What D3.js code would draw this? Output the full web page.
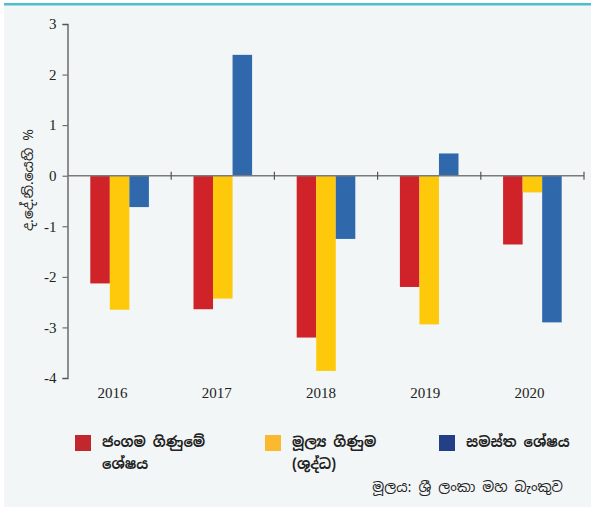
<!DOCTYPE html>
<html>
<head>
<meta charset="utf-8">
<script src="https://cdn.jsdelivr.net/npm/d3@7"></script>
<style>
  body { margin: 0; background: #fff; }
  svg { display: block; }
  .tick text { font-family: "Liberation Serif", "DejaVu Serif", serif; }
</style>
</head>
<body>
<svg id="chart" width="591" height="507"></svg>
<script>
// data
var years = ['2016', '2017', '2018', '2019', '2020'];
var seriesKeys = ['current', 'financial', 'overall'];
var seriesNames = [['ජංගම ගිණුමේ', 'ශේෂය'], ['මූල්‍ය ගිණුම', '(ශුද්ධ)'], ['සමස්ත ශේෂය']];
var currentAccount = [-2.13, -2.64, -3.2, -2.2, -1.36];
var financialAccount = [-2.65, -2.43, -3.86, -2.94, -0.33];
var overallBalance = [-0.62, 2.39, -1.25, 0.44, -2.9];
var yTicks = [3, 2, 1, 0, -1, -2, -3, -4];

var barColors = ['#cf2229', '#fdc90a', '#2f69ab'];
var legendColors = ['#c1272d', '#fbb92f', '#233f86'];

var values = [currentAccount, financialAccount, overallBalance];
var rows = years.map(function(y, i) {
    return {year: y, vals: seriesKeys.map(function(k, j) { return {key: k, value: values[j][i]}; })};
});

var svg = d3.select('svg#chart');

// panel
svg.append('rect')
    .attr('x', 4).attr('y', 4)
    .attr('width', 587).attr('height', 503)
    .attr('fill', '#f2f6f6');
svg.append('rect')
    .attr('x', 4).attr('y', 3)
    .attr('width', 587).attr('height', 2.5)
    .attr('fill', '#4dbfcb');

var x0 = d3.scaleBand().domain(years).range([68, 584]);
var x1 = d3.scaleBand().domain(seriesKeys).range([22.3, 80.9]);
var y = d3.scaleLinear().domain([-4, 3]).range([378, 24]);

// bars
var groups = svg.append('g').selectAll('g')
    .data(rows)
    .enter().append('g')
    .attr('transform', function(d) { return 'translate(' + x0(d.year) + ',0)'; });

groups.selectAll('rect')
    .data(function(d) { return d.vals; })
    .enter().append('rect')
    .attr('x', function(d) { return x1(d.key); })
    .attr('width', x1.bandwidth())
    .attr('y', function(d) { return y(Math.max(0, d.value)); })
    .attr('height', function(d) { return Math.abs(y(d.value) - y(0)); })
    .attr('fill', function(d, i) { return barColors[i]; });

// y axis (plain hyphen for negatives, as in the original)
var yAxis = d3.axisLeft(y).tickValues(yTicks).tickSize(5).tickPadding(6)
    .tickFormat(function(d) { return String(d); });
var gY = svg.append('g')
    .attr('transform', 'translate(67.5,0)')
    .call(yAxis);
gY.select('.domain').attr('stroke', '#555').attr('stroke-width', 1.3);
gY.selectAll('.tick line').attr('stroke', '#555');
gY.selectAll('.tick text')
    .attr('font-size', 15)
    .attr('fill', '#222');

// zero line with category separators
svg.append('line')
    .attr('x1', 67).attr('x2', 584)
    .attr('y1', y(0)).attr('y2', y(0))
    .attr('stroke', '#7a7a7a').attr('stroke-width', 1.6);

svg.append('g').selectAll('line')
    .data(years.slice(1).concat(['end']))
    .enter().append('line')
    .attr('x1', function(d) { return d === 'end' ? 584 : x0(d); })
    .attr('x2', function(d) { return d === 'end' ? 584 : x0(d); })
    .attr('y1', y(0) - 4).attr('y2', y(0) + 4)
    .attr('stroke', '#555').attr('stroke-width', 1.2);

// year labels
svg.append('g').selectAll('text')
    .data(years)
    .enter().append('text')
    .attr('x', function(d, i) { return x0(d) + x0.bandwidth() / 2 - 7 + i; })
    .attr('y', 398)
    .attr('text-anchor', 'middle')
    .attr('font-family', '"Liberation Serif", serif')
    .attr('font-size', 15)
    .attr('fill', '#222')
    .text(function(d) { return d; });

// y axis title
svg.append('text')
    .attr('transform', 'translate(33,180) rotate(-90)')
    .attr('text-anchor', 'middle')
    .attr('font-family', '"Noto Sans Sinhala", "Noto Sans", sans-serif')
    .attr('font-size', 14)
    .attr('fill', '#222')
    .text('ද.දේ.නි.යෙහි %');

// legend
var legendX = [75, 265, 439];
var legend = svg.append('g').selectAll('g')
    .data(seriesNames)
    .enter().append('g')
    .attr('transform', function(d, i) { return 'translate(' + legendX[i] + ',435)'; });

legend.append('rect')
    .attr('width', 16).attr('height', 16)
    .attr('fill', function(d, i) { return legendColors[i]; });

legend.append('text')
    .attr('x', 27)
    .attr('y', 12)
    .attr('font-family', '"Noto Sans Sinhala", "Noto Sans", sans-serif')
    .attr('font-size', 14)
    .attr('font-weight', 'bold')
    .attr('fill', '#222')
    .selectAll('tspan')
    .data(function(d) { return d; })
    .enter().append('tspan')
    .attr('x', 27)
    .attr('dy', function(d, i) { return i === 0 ? 0 : 22; })
    .text(function(d) { return d; });

// source
svg.append('text')
    .attr('x', 563).attr('y', 492)
    .attr('text-anchor', 'end')
    .attr('font-family', '"Noto Sans Sinhala", "Noto Sans", sans-serif')
    .attr('font-size', 14)
    .attr('fill', '#222')
    .text('මූලය: ශ්‍රී ලංකා මහ බැංකුව');
</script>
</body>
</html>
